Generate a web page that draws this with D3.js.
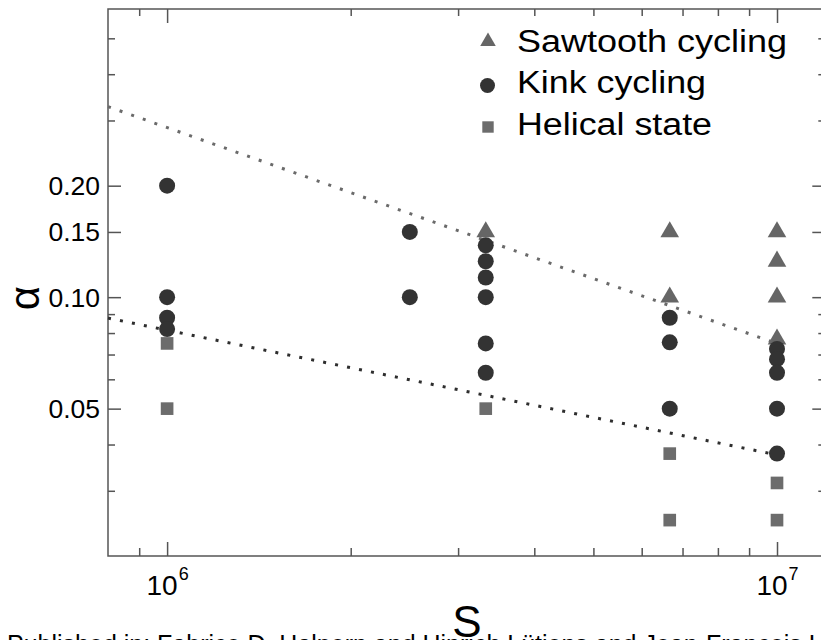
<!DOCTYPE html>
<html>
<head>
<meta charset="utf-8">
<script src="https://cdn.jsdelivr.net/npm/d3@7"></script>
<style>
  html, body { margin: 0; padding: 0; background: #fff; }
  svg { display: block; }
  text { font-family: "Liberation Sans", Arial, Helvetica, sans-serif; fill: #000; }
</style>
</head>
<body>
<svg id="chart" width="821" height="640"></svg>
<script>
// ---------------- data ----------------
const sawtoothS     = [3.33e6, 6.67e6, 6.67e6, 1e7, 1e7, 1e7, 1e7];
const sawtoothAlpha = [0.15,   0.15,   0.10,   0.15, 0.125, 0.10, 0.077];

const kinkS     = [1e6, 1e6, 1e6, 1e6, 2.5e6, 2.5e6,
                   3.33e6, 3.33e6, 3.33e6, 3.33e6, 3.33e6, 3.33e6,
                   6.67e6, 6.67e6, 6.67e6,
                   1e7, 1e7, 1e7, 1e7, 1e7];
const kinkAlpha = [0.20, 0.10, 0.088, 0.082, 0.15, 0.10,
                   0.138, 0.125, 0.113, 0.10, 0.075, 0.0625,
                   0.088, 0.0755, 0.05,
                   0.0725, 0.068, 0.0625, 0.05, 0.0378];

const helicalS     = [1e6, 1e6, 3.33e6, 6.67e6, 6.67e6, 1e7, 1e7];
const helicalAlpha = [0.075, 0.05, 0.05, 0.0378, 0.025, 0.0315, 0.025];

const upperFitS     = [8e5, 1e7];
const upperFitAlpha = [0.327, 0.0749];
const lowerFitS     = [8e5, 1e7];
const lowerFitAlpha = [0.0878, 0.0375];

const xMajorTicks = [1e6, 1e7];
const xTickExponents = ["6", "7"];
const xMinorTicks = [9e5, 2e6, 3e6, 4e6, 5e6, 6e6, 7e6, 8e6, 9e6];
const yMajorTicks = [0.05, 0.10, 0.15, 0.20];
const yTickLabels = ["0.05", "0.10", "0.15", "0.20"];
const yMinorTicks = [0.03, 0.04, 0.06, 0.07, 0.08, 0.09, 0.3, 0.4, 0.5];

const legendLabels = ["Sawtooth cycling", "Kink cycling", "Helical state"];
const xTitle = "S";
const yTitle = "α";
const footer = "Published in: Fabrice D. Halpern and Hinrich Lütjens and Jean-François Luciani";

// ---------------- layout ----------------
const L = 108, R = 825.3, T = 9, B = 556;
const svg = d3.select("#chart");
const x = d3.scaleLog().domain([8e5, 1.2e7]).range([L, R]);
const y = d3.scaleLog().domain([0.02, 0.6]).range([B, T]);

const frameColor = "#555";
const cKink = "#333333", cSaw = "#666666", cHel = "#6c6c6c";

// axes (ticks inward)
function styleAxis(g) {
  g.select(".domain").remove();
  g.selectAll(".tick line").attr("stroke", frameColor).attr("stroke-width", 1.5);
  g.selectAll(".tick text").remove();
}
svg.append("g").attr("transform", `translate(0,${B})`)
  .call(d3.axisBottom(x).tickValues(xMajorTicks).tickSizeInner(-14).tickSizeOuter(0).tickFormat(""))
  .call(styleAxis);
svg.append("g").attr("transform", `translate(0,${B})`)
  .call(d3.axisBottom(x).tickValues(xMinorTicks).tickSizeInner(-8).tickSizeOuter(0).tickFormat(""))
  .call(styleAxis);
svg.append("g").attr("transform", `translate(0,${T})`)
  .call(d3.axisTop(x).tickValues(xMajorTicks).tickSizeInner(-14).tickSizeOuter(0).tickFormat(""))
  .call(styleAxis);
svg.append("g").attr("transform", `translate(0,${T})`)
  .call(d3.axisTop(x).tickValues(xMinorTicks).tickSizeInner(-7).tickSizeOuter(0).tickFormat(""))
  .call(styleAxis);
svg.append("g").attr("transform", `translate(${L},0)`)
  .call(d3.axisLeft(y).tickValues(yMajorTicks).tickSizeInner(-13).tickSizeOuter(0).tickFormat(""))
  .call(styleAxis);
svg.append("g").attr("transform", `translate(${L},0)`)
  .call(d3.axisLeft(y).tickValues(yMinorTicks).tickSizeInner(-7).tickSizeOuter(0).tickFormat(""))
  .call(styleAxis);
svg.append("g").attr("transform", `translate(${R},0)`)
  .call(d3.axisRight(y).tickValues(yMajorTicks).tickSizeInner(-13).tickSizeOuter(0).tickFormat(""))
  .call(styleAxis);
svg.append("g").attr("transform", `translate(${R},0)`)
  .call(d3.axisRight(y).tickValues(yMinorTicks).tickSizeInner(-7).tickSizeOuter(0).tickFormat(""))
  .call(styleAxis);

// frame
svg.append("rect").attr("x", L).attr("y", T).attr("width", R - L).attr("height", B - T)
  .attr("fill", "none").attr("stroke", frameColor).attr("stroke-width", 1.5);

// tick labels
svg.append("g").selectAll("text").data(yMajorTicks).join("text")
  .attr("x", 100).attr("y", d => y(d) + 9.5)
  .attr("text-anchor", "end").attr("font-size", 26.5)
  .text((d, i) => yTickLabels[i]);

const xl = svg.append("g").selectAll("text").data(xMajorTicks).join("text")
  .attr("x", d => x(d) + 0.5).attr("y", 595)
  .attr("text-anchor", "middle").attr("font-size", 28);
xl.append("tspan").text("10");
xl.append("tspan").attr("font-size", 18).attr("dx", 1).attr("dy", -15)
  .text((d, i) => xTickExponents[i]);

// axis titles
svg.append("text").attr("transform", "translate(39,298) rotate(-90)")
  .attr("text-anchor", "middle").attr("font-size", 42).text(yTitle);
svg.append("text").attr("x", 467).attr("y", 636.5)
  .attr("text-anchor", "middle").attr("font-size", 44).text(xTitle);

// footer (cut off at bottom)
svg.append("text").attr("x", 7).attr("y", 653).attr("font-size", 25).text(footer);

// markers
const tri = d3.symbol().type(d3.symbolTriangle).size(150);
const sq = d3.symbol().type(d3.symbolSquare).size(160);

svg.append("g").selectAll("path").data(sawtoothS).join("path")
  .attr("d", tri).attr("fill", cSaw)
  .attr("transform", (d, i) => `translate(${x(d)},${y(sawtoothAlpha[i])})`);
svg.append("g").selectAll("path").data(helicalS).join("path")
  .attr("d", sq).attr("fill", cHel)
  .attr("transform", (d, i) => `translate(${x(d)},${y(helicalAlpha[i])})`);

// fit lines
const line = d3.line().x(d => x(d[0])).y(d => y(d[1]));
svg.append("path").datum(upperFitS.map((s, i) => [s, upperFitAlpha[i]]))
  .attr("d", line).attr("fill", "none").attr("stroke", "#6a6a6a")
  .attr("stroke-width", 3).attr("stroke-dasharray", "3 9.3");
svg.append("path").datum(lowerFitS.map((s, i) => [s, lowerFitAlpha[i]]))
  .attr("d", line).attr("fill", "none").attr("stroke", "#2e2e2e")
  .attr("stroke-width", 3).attr("stroke-dasharray", "3 9.2");

svg.append("g").selectAll("circle").data(kinkS).join("circle")
  .attr("cx", d => x(d)).attr("cy", (d, i) => y(kinkAlpha[i])).attr("r", 8)
  .attr("fill", cKink);

// legend
const lg = svg.append("g");
lg.append("path").attr("d", d3.symbol().type(d3.symbolTriangle).size(105)).attr("fill", cSaw)
  .attr("transform", "translate(488,41.5)");
lg.append("circle").attr("cx", 487.5).attr("cy", 85.5).attr("r", 7.5).attr("fill", cKink);
lg.append("path").attr("d", d3.symbol().type(d3.symbolSquare).size(130)).attr("fill", cHel)
  .attr("transform", "translate(488,127)");
const legendY = [51.5, 92.5, 134.5];
const legendW = [270, 189, 195];
lg.selectAll("text").data(legendLabels).join("text")
  .attr("x", 517).attr("y", (d, i) => legendY[i]).attr("font-size", 31)
  .attr("textLength", (d, i) => legendW[i]).attr("lengthAdjust", "spacingAndGlyphs")
  .text(d => d);
</script>
</body>
</html>
